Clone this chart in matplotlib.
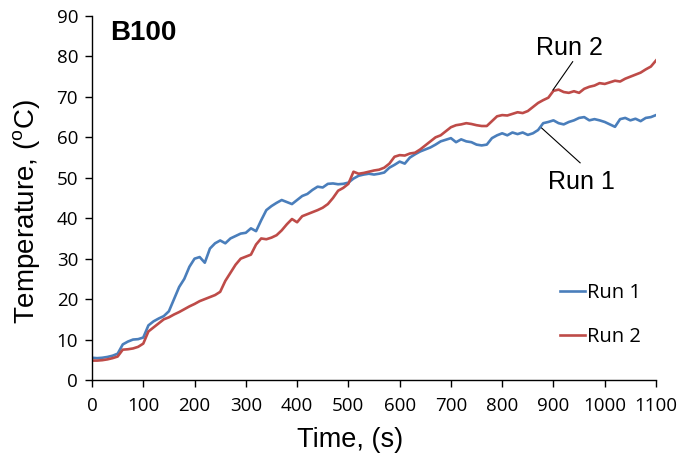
import matplotlib
matplotlib.use("Agg")
import matplotlib.pyplot as plt
import numpy as np

time_s = list(range(0, 1101, 10))

run1 = [5.5, 5.4, 5.5, 5.7, 6.0, 6.5, 8.8, 9.5, 10.0, 10.1,
        10.5, 13.5, 14.5, 15.2, 15.8, 17.0, 20.0, 23.0, 25.0, 28.0,
        30.0, 30.4, 29.0, 32.5, 33.8, 34.5, 33.8, 35.0, 35.6, 36.2,
        36.4, 37.5, 36.8, 39.5, 42.0, 43.0, 43.8, 44.5, 44.0, 43.5,
        44.5, 45.5, 46.0, 47.0, 47.8, 47.6, 48.5, 48.6, 48.4, 48.5,
        48.8, 49.8, 50.5, 50.8, 51.0, 50.8, 51.0, 51.3, 52.5, 53.2,
        54.0, 53.5, 55.0, 55.8, 56.5, 57.0, 57.5, 58.2, 59.0, 59.4,
        59.8, 58.8, 59.5, 59.0, 58.8, 58.2, 58.0, 58.2, 59.8, 60.5,
        61.0, 60.5, 61.2, 60.8, 61.2, 60.6, 61.0, 61.8, 63.5, 63.8,
        64.2, 63.5, 63.2, 63.8, 64.2, 64.8, 65.0, 64.2, 64.5, 64.2,
        63.8, 63.2, 62.6, 64.5, 64.8, 64.2, 64.6, 64.0, 64.8, 65.0,
        65.5]

run2 = [4.8, 4.8, 4.9, 5.1, 5.4, 5.8, 7.5, 7.6, 7.8, 8.2,
        9.0, 12.0, 13.0, 14.0, 15.0, 15.5, 16.2, 16.8, 17.5, 18.2,
        18.8, 19.5, 20.0, 20.5, 21.0, 21.8, 24.5, 26.5, 28.5, 30.0,
        30.5, 31.0, 33.5, 35.0, 34.8, 35.2, 35.8, 37.0, 38.5, 39.8,
        39.0, 40.5, 41.0, 41.5, 42.0, 42.6, 43.5, 45.0, 46.8, 47.5,
        48.5, 51.5, 51.0, 51.2, 51.5, 51.8, 52.0, 52.5, 53.5, 55.2,
        55.6, 55.5, 56.0, 56.2, 57.0, 58.0, 59.0, 60.0, 60.5, 61.5,
        62.5, 63.0, 63.2, 63.5, 63.3, 63.0, 62.8, 62.8, 64.0, 65.2,
        65.5, 65.4, 65.8, 66.2, 66.0, 66.5, 67.5, 68.5, 69.2, 69.8,
        71.5, 71.8, 71.2, 71.0, 71.4, 71.0, 72.0, 72.5, 72.8, 73.4,
        73.2, 73.6, 74.0, 73.8, 74.5, 75.0, 75.5, 76.0, 76.8, 77.5,
        79.0]

series_labels = ["Run 1", "Run 2"]
x_ticks = list(range(0, 1101, 100))
y_ticks = list(range(0, 91, 10))

plt.rcParams['mathtext.fontset'] = 'custom'
plt.rcParams['mathtext.rm'] = 'Liberation Sans'

W, H = 679, 454
fig = plt.figure(figsize=(W/100, H/100), dpi=100)
ax = fig.add_axes([92/W, 1-380/H, (656-92)/W, (380-16)/H])

blue = '#4A7EBB'
red = '#BE4B48'
ax.plot(time_s, run1, color=blue, lw=1.9, label=series_labels[0])
ax.plot(time_s, run2, color=red, lw=1.9, label=series_labels[1])

ax.set_xlim(0, 1100)
ax.set_ylim(0, 90)
ax.set_xticks(x_ticks)
ax.set_yticks(y_ticks)
for s in ['top', 'right']:
    ax.spines[s].set_visible(False)
for s in ['left', 'bottom']:
    ax.spines[s].set_linewidth(1.0)
    ax.spines[s].set_color('black')
ax.tick_params(direction='out', length=5, width=1.0, labelsize=13.5, pad=5)
ax.tick_params(axis='x', pad=7)
for lab in ax.get_xticklabels() + ax.get_yticklabels():
    lab.set_fontfamily('Open Sans')

ax.set_xlabel('Time, (s)', fontsize=19.5, family='Liberation Sans')
ax.xaxis.set_label_coords((350-92)/564, -(440-380)/364)
ax.xaxis.label.set_va('center')
ax.set_ylabel(r'Temperature, ($\mathregular{^o}$C)', fontsize=20,
              family='Liberation Sans')
ax.yaxis.set_label_coords(-(92-27)/564, (380-212)/364)
ax.yaxis.label.set_va('center')

ax.text(35, 85.8, 'B100', fontsize=20, fontweight='bold',
        family='Liberation Sans', va='center', ha='left')

ax.text(932, 82.1, 'Run 2', fontsize=18, family='Liberation Sans',
        va='center', ha='center')
ax.plot([937.5, 899], [78.7, 71.7], color='black', lw=0.8)
ax.text(954, 49, 'Run 1', fontsize=18, family='Liberation Sans',
        va='center', ha='center')
ax.plot([877, 952], [62.3, 53.7], color='black', lw=0.8)

leg = ax.legend(loc='center left', bbox_to_anchor=((560-92)/564, (380-315)/364),
                bbox_transform=ax.transAxes, frameon=False, borderpad=0,
                borderaxespad=0, handlelength=1.25, handletextpad=0.1,
                labelspacing=1.15, prop={'family': 'Open Sans', 'size': 14.5})

fig.savefig('out.png', dpi=100)
